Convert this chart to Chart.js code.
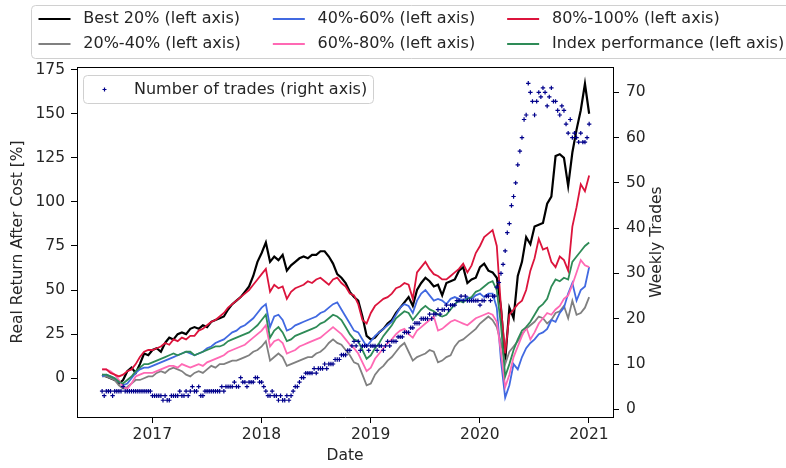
<!DOCTYPE html>
<html>
<head>
<meta charset="utf-8">
<title>Real return after cost by quintile</title>
<script src="https://cdn.jsdelivr.net/npm/chart.js@4.4.1/dist/chart.umd.min.js"></script>
<style>
  html, body { margin: 0; padding: 0; background: #fff; }
</style>
</head>
<body>
<canvas id="returnsChart" width="786" height="468"></canvas>
<script>
// Weekly data from mid-July 2016 to end of 2020; lines are sampled every 2 weeks
const firstDate = 2016.54;

// Real return after cost [%], one row per calendar year (2016 part, 2017, 2018, 2019, 2020)
const best20 = [
  2, 1, 0, -1, -3, -1, 4, 6, 3, 8, 14, 13, 16,
  17, 15, 20, 23, 22, 25, 26, 25, 28, 29, 28, 30, 29, 32, 33, 34, 35, 39, 42, 44, 46, 49, 52, 58, 66, 71,
  77, 66, 69, 67, 70, 61, 64, 66, 68, 69, 68, 70, 70, 72, 72, 69, 65, 59, 57, 54, 49, 46, 44, 35, 24, 22,
  23, 26, 28, 31, 33, 37, 40, 43, 46, 41, 50, 54, 57, 55, 52, 53, 47, 54, 55, 56, 61, 63, 54, 56, 57, 63,
  65, 61, 60, 57, 40, 10, 40, 34, 58, 66, 80, 76, 86, 87, 88, 99, 103, 126, 127, 125, 109, 128, 141, 152, 167, 150
];
const q20to40 = [
  1, 1, 0, -1, -4, -6, -5, -3, -1, -1, 0, 1, 1,
  3, 4, 3, 5, 6, 5, 4, 2, 1, 3, 4, 3, 5, 7, 6, 8, 8, 9, 10, 10, 11, 12, 13, 15, 16, 18,
  21, 10, 12, 14, 12, 7, 8, 9, 10, 11, 12, 12, 14, 15, 17, 20, 22, 20, 19, 16, 13, 9, 8, 2, -4, -3,
  2, 5, 7, 10, 12, 15, 18, 20, 15, 10, 12, 13, 14, 16, 15, 9, 10, 12, 13, 18, 21, 22, 24, 26, 28, 31,
  33, 35, 33, 29, 20, 8, 15, 18, 21, 25, 28, 30, 32, 35, 34, 31, 33, 37, 38, 41, 34, 44, 36, 37, 40, 46
];
const q40to60 = [
  1, 2, 1, 0, -2, -4, -3, 0, 3, 5, 6, 6, 7,
  8, 9, 10, 11, 12, 13, 14, 15, 14, 13, 14, 15, 17, 18, 20, 21, 22, 24, 26, 27, 29, 30, 32, 34, 37, 40,
  42, 29, 35, 36, 33, 27, 28, 30, 31, 32, 33, 34, 35, 37, 38, 40, 42, 43, 39, 35, 31, 27, 26, 22, 18, 21,
  24, 26, 28, 30, 32, 36, 40, 42, 41, 37, 44, 48, 50, 47, 44, 45, 44, 42, 45, 46, 45, 44, 46, 45, 47, 48,
  46, 48, 48, 40, 10, -11, -4, 8, 5, 12, 17, 20, 22, 25, 26, 28, 33, 32, 37, 40, 48, 54, 44, 50, 52, 63
];
const q60to80 = [
  5, 5, 4, 2, -1, -5, -6, -3, 1, 2, 3, 3, 3,
  4, 5, 6, 7, 7, 6, 8, 7, 6, 7, 8, 7, 9, 10, 11, 12, 13, 15, 16, 17, 18, 19, 21, 23, 25, 27,
  30, 18, 21, 22, 20, 14, 15, 16, 18, 19, 20, 21, 22, 23, 25, 27, 29, 27, 25, 22, 19, 17, 14, 9, 4, 6,
  11, 14, 17, 20, 22, 25, 27, 28, 25, 23, 27, 29, 31, 33, 35, 27, 28, 30, 32, 33, 32, 31, 30, 32, 34, 35,
  36, 37, 36, 32, 15, -5, 2, 12, 18, 24, 29, 22, 26, 31, 34, 37, 36, 39, 41, 45, 47, 53, 60, 67, 64, 63
];
const q80to100 = [
  5, 5, 3, 2, 1, 2, 4, 5, 8, 12, 15, 16, 16,
  17, 18, 20, 19, 22, 21, 23, 22, 24, 24, 27, 28, 30, 32, 33, 35, 37, 40, 42, 44, 46, 48, 50, 53, 56, 59,
  62, 49, 53, 51, 52, 45, 49, 51, 52, 53, 55, 54, 56, 57, 55, 53, 56, 57, 54, 52, 48, 47, 42, 33, 31, 37,
  41, 43, 45, 46, 48, 51, 52, 54, 53, 45, 60, 63, 66, 62, 59, 58, 56, 56, 58, 60, 62, 65, 60, 64, 71, 75,
  80, 82, 84, 75, 40, 14, 36, 39, 42, 44, 50, 61, 68, 79, 73, 74, 66, 63, 69, 67, 61, 86, 97, 110, 106, 115
];
const indexPerf = [
  2, 2, 1, 0, -2, -3, -1, 1, 4, 6, 8, 8, 9,
  10, 11, 12, 13, 14, 13, 14, 15, 15, 13, 14, 15, 16, 17, 18, 18, 19, 21, 22, 23, 24, 25, 26, 28, 30, 33,
  36, 23, 27, 29, 26, 21, 22, 24, 25, 26, 27, 28, 29, 31, 32, 34, 36, 35, 33, 29, 25, 22, 21, 16, 11, 13,
  17, 20, 24, 27, 30, 34, 36, 38, 37, 33, 36, 39, 41, 39, 38, 36, 35, 36, 39, 42, 44, 43, 45, 46, 49, 50,
  52, 54, 55, 50, 30, 1, 8, 16, 22, 27, 29, 32, 36, 40, 42, 45, 52, 56, 55, 57, 56, 66, 69, 72, 75, 77
];

// Number of trades per week (right axis)
const weeklyTrades = [
  4, 3, 4, 4, 4, 3, 4, 4, 4, 4, 5, 4, 4, 4, 4, 4, 4, 4, 4, 4, 4, 4, 4, 4,
  3, 3, 3, 3, 3, 2, 3, 2, 2, 3, 3, 3,
  3, 4, 3, 3, 4, 3, 4, 5, 4, 4, 5, 3,
  3, 4, 4, 4, 4, 4, 4, 4, 4, 5, 4, 5,
  5, 5, 5, 6, 5, 5, 7, 6, 6, 5, 6, 6, 6, 7, 7, 6, 6, 5,
  4, 3, 3, 4, 3, 3, 2, 3, 2, 2, 3, 2,
  3, 4, 5, 5, 6, 7, 7, 8,
  8, 8, 8, 9, 8, 9, 9, 9, 10, 9, 10, 10,
  10, 11, 11, 11, 12, 12, 12, 13,
  13, 14, 15, 14, 15, 13, 14, 14, 14, 13, 14, 14,
  14, 13, 14, 14, 13, 14, 15, 14, 15, 15, 15, 16,
  16, 16, 17, 17, 17, 18, 18, 19, 19, 19, 20, 20,
  20, 20, 21, 20, 21, 21, 22, 21, 22, 22, 23, 22,
  23, 23, 23, 24, 24, 25, 24, 25, 24, 24, 24, 24,
  24, 24, 23, 24, 24, 25, 25, 24, 25, 25, 27, 28,
  30, 32, 35, 39, 41, 45, 47, 50, 54, 57, 60,
  64, 65, 72, 70, 68, 65, 68, 70, 69, 71, 70, 67, 69, 71, 68, 68,
  66, 65, 67, 66, 63, 61, 64, 60, 61, 60, 59, 61, 59, 59, 60, 63
];

const yearTicks = [2017, 2018, 2019, 2020, 2021];
const returnTicks = [0, 25, 50, 75, 100, 125, 150, 175];
const tradeTicks = [0, 10, 20, 30, 40, 50, 60, 70];

const seriesLabels = [
  'Best 20% (left axis)', '20%-40% (left axis)', '40%-60% (left axis)',
  '60%-80% (left axis)', '80%-100% (left axis)', 'Index performance (left axis)'
];
const tradesLabel = 'Number of trades (right axis)';

const FONT = '"DejaVu Sans", sans-serif';
const TEXT = '#262626';
const LEGEND_FS = 16;

function toPoints(values, stepWeeks) {
  return values.map((v, i) => ({ x: firstDate + i * stepWeeks / 52, y: v }));
}

const lineColors = ['#000000', '#808080', '#4169e1', '#ff69b4', '#dc143c', '#2e8b57'];
const lineSeries = [best20, q20to40, q40to60, q60to80, q80to100, indexPerf];

const datasets = lineSeries.map((values, i) => ({
  type: 'line',
  label: seriesLabels[i],
  data: toPoints(values, 2),
  borderColor: lineColors[i],
  borderWidth: i === 0 ? 2.2 : 1.8,
  pointRadius: 0,
  tension: 0,
  yAxisID: 'y',
  order: 6 - i   // matplotlib order: first plotted ends up at the bottom
}));

datasets.push({
  type: 'scatter',
  label: tradesLabel,
  data: toPoints(weeklyTrades, 1),
  yAxisID: 'y2',
  pointStyle: 'cross',
  pointRadius: 2.2,
  borderWidth: 1.2,
  borderColor: '#00008b',
  backgroundColor: '#00008b',
  order: 0
});

function roundRect(ctx, x, y, w, h, r) {
  ctx.beginPath();
  ctx.moveTo(x + r, y);
  ctx.lineTo(x + w - r, y);
  ctx.quadraticCurveTo(x + w, y, x + w, y + r);
  ctx.lineTo(x + w, y + h - r);
  ctx.quadraticCurveTo(x + w, y + h, x + w - r, y + h);
  ctx.lineTo(x + r, y + h);
  ctx.quadraticCurveTo(x, y + h, x, y + h - r);
  ctx.lineTo(x, y + r);
  ctx.quadraticCurveTo(x, y, x + r, y);
  ctx.closePath();
}

// draws the top frame line, the right axis title and both boxed legends
const decorPlugin = {
  id: 'decor',
  afterDraw(chart) {
    const ctx = chart.ctx;
    const area = chart.chartArea;
    ctx.save();

    ctx.strokeStyle = '#000';
    ctx.lineWidth = 1;
    ctx.beginPath();
    ctx.moveTo(area.left, area.top + 0.5);
    ctx.lineTo(area.right, area.top + 0.5);
    ctx.stroke();

    ctx.fillStyle = TEXT;
    ctx.font = '15.5px ' + FONT;
    ctx.textAlign = 'center';
    ctx.textBaseline = 'middle';
    ctx.translate(657, (area.top + area.bottom) / 2);
    ctx.rotate(-Math.PI / 2);
    ctx.fillText('Weekly Trades', 0, 0);
    ctx.setTransform(1, 0, 0, 1, 0, 0);

    // top legend, 3 columns x 2 rows, spaced like matplotlib (em based)
    const fs = LEGEND_FS;
    ctx.font = fs + 'px ' + FONT;
    roundRect(ctx, 31.5, 5.5, 800, 53, 4);
    ctx.fillStyle = 'rgba(255,255,255,0.8)';
    ctx.fill();
    ctx.strokeStyle = '#d0d0d0';
    ctx.lineWidth = 1;
    ctx.stroke();

    const rowY = [19, 44];
    const handle = 2 * fs, textPad = 0.8 * fs, colGap = 2 * fs;
    let colStart = 38.5;
    ctx.textAlign = 'left';
    ctx.textBaseline = 'middle';
    for (let c = 0; c < 3; c++) {
      let widest = 0;
      for (let r = 0; r < 2; r++) {
        const i = c * 2 + r;
        const y = rowY[r];
        ctx.strokeStyle = lineColors[i];
        ctx.lineWidth = 2;
        ctx.beginPath();
        ctx.moveTo(colStart, y);
        ctx.lineTo(colStart + handle, y);
        ctx.stroke();
        ctx.fillStyle = TEXT;
        ctx.fillText(seriesLabels[i], colStart + handle + textPad, y);
        widest = Math.max(widest, ctx.measureText(seriesLabels[i]).width);
      }
      colStart += handle + textPad + widest + colGap;
    }

    // scatter legend inside the plot
    roundRect(ctx, 83.5, 75.5, 290, 28, 4);
    ctx.fillStyle = 'rgba(255,255,255,0.8)';
    ctx.fill();
    ctx.strokeStyle = '#d0d0d0';
    ctx.lineWidth = 1;
    ctx.stroke();
    ctx.strokeStyle = '#00008b';
    ctx.lineWidth = 1.2;
    ctx.beginPath();
    ctx.moveTo(102.5, 89.5); ctx.lineTo(106.5, 89.5);
    ctx.moveTo(104.5, 87.5); ctx.lineTo(104.5, 91.5);
    ctx.stroke();
    ctx.fillStyle = TEXT;
    ctx.fillText(tradesLabel, 134, 89.5);

    ctx.restore();
  }
};

function fixedTicks(values) {
  return scale => { scale.ticks = values.map(v => ({ value: v })); };
}

const tickGrid = {
  display: true,
  drawOnChartArea: false,
  drawTicks: true,
  tickLength: 6,
  tickColor: '#000',
  tickWidth: 1
};

Chart.defaults.font.family = FONT;
Chart.defaults.font.size = 15.5;
Chart.defaults.color = TEXT;

new Chart(document.getElementById('returnsChart'), {
  data: { datasets: datasets },
  options: {
    responsive: false,
    animation: false,
    events: [],
    layout: { padding: { top: 67, left: 0, right: 0, bottom: 0 } },
    plugins: {
      legend: { display: false },
      tooltip: { enabled: false }
    },
    scales: {
      x: {
        type: 'linear',
        position: 'bottom',
        min: 2016.31,
        max: 2021.22,
        afterBuildTicks: fixedTicks(yearTicks),
        afterFit: scale => { scale.height = 51; },
        ticks: { padding: 3, maxRotation: 0, callback: v => String(v) },
        grid: tickGrid,
        border: { display: true, color: '#000', width: 1 },
        title: { display: true, text: 'Date', padding: { top: 0, bottom: 3 } }
      },
      y: {
        type: 'linear',
        position: 'left',
        min: -22,
        max: 176.5,
        afterBuildTicks: fixedTicks(returnTicks),
        afterFit: scale => { scale.width = 77; },
        ticks: { padding: 6, callback: v => String(v) },
        grid: tickGrid,
        border: { display: true, color: '#000', width: 1 },
        title: { display: true, text: 'Real Return After Cost [%]', padding: { top: 9, bottom: 0 } }
      },
      y2: {
        type: 'linear',
        position: 'right',
        min: -1.7,
        max: 75.6,
        afterBuildTicks: fixedTicks(tradeTicks),
        afterFit: scale => { scale.width = 173; },
        ticks: { padding: 7, callback: v => String(v) },
        grid: tickGrid,
        border: { display: true, color: '#000', width: 1 }
      }
    }
  },
  plugins: [decorPlugin]
});
</script>
</body>
</html>
